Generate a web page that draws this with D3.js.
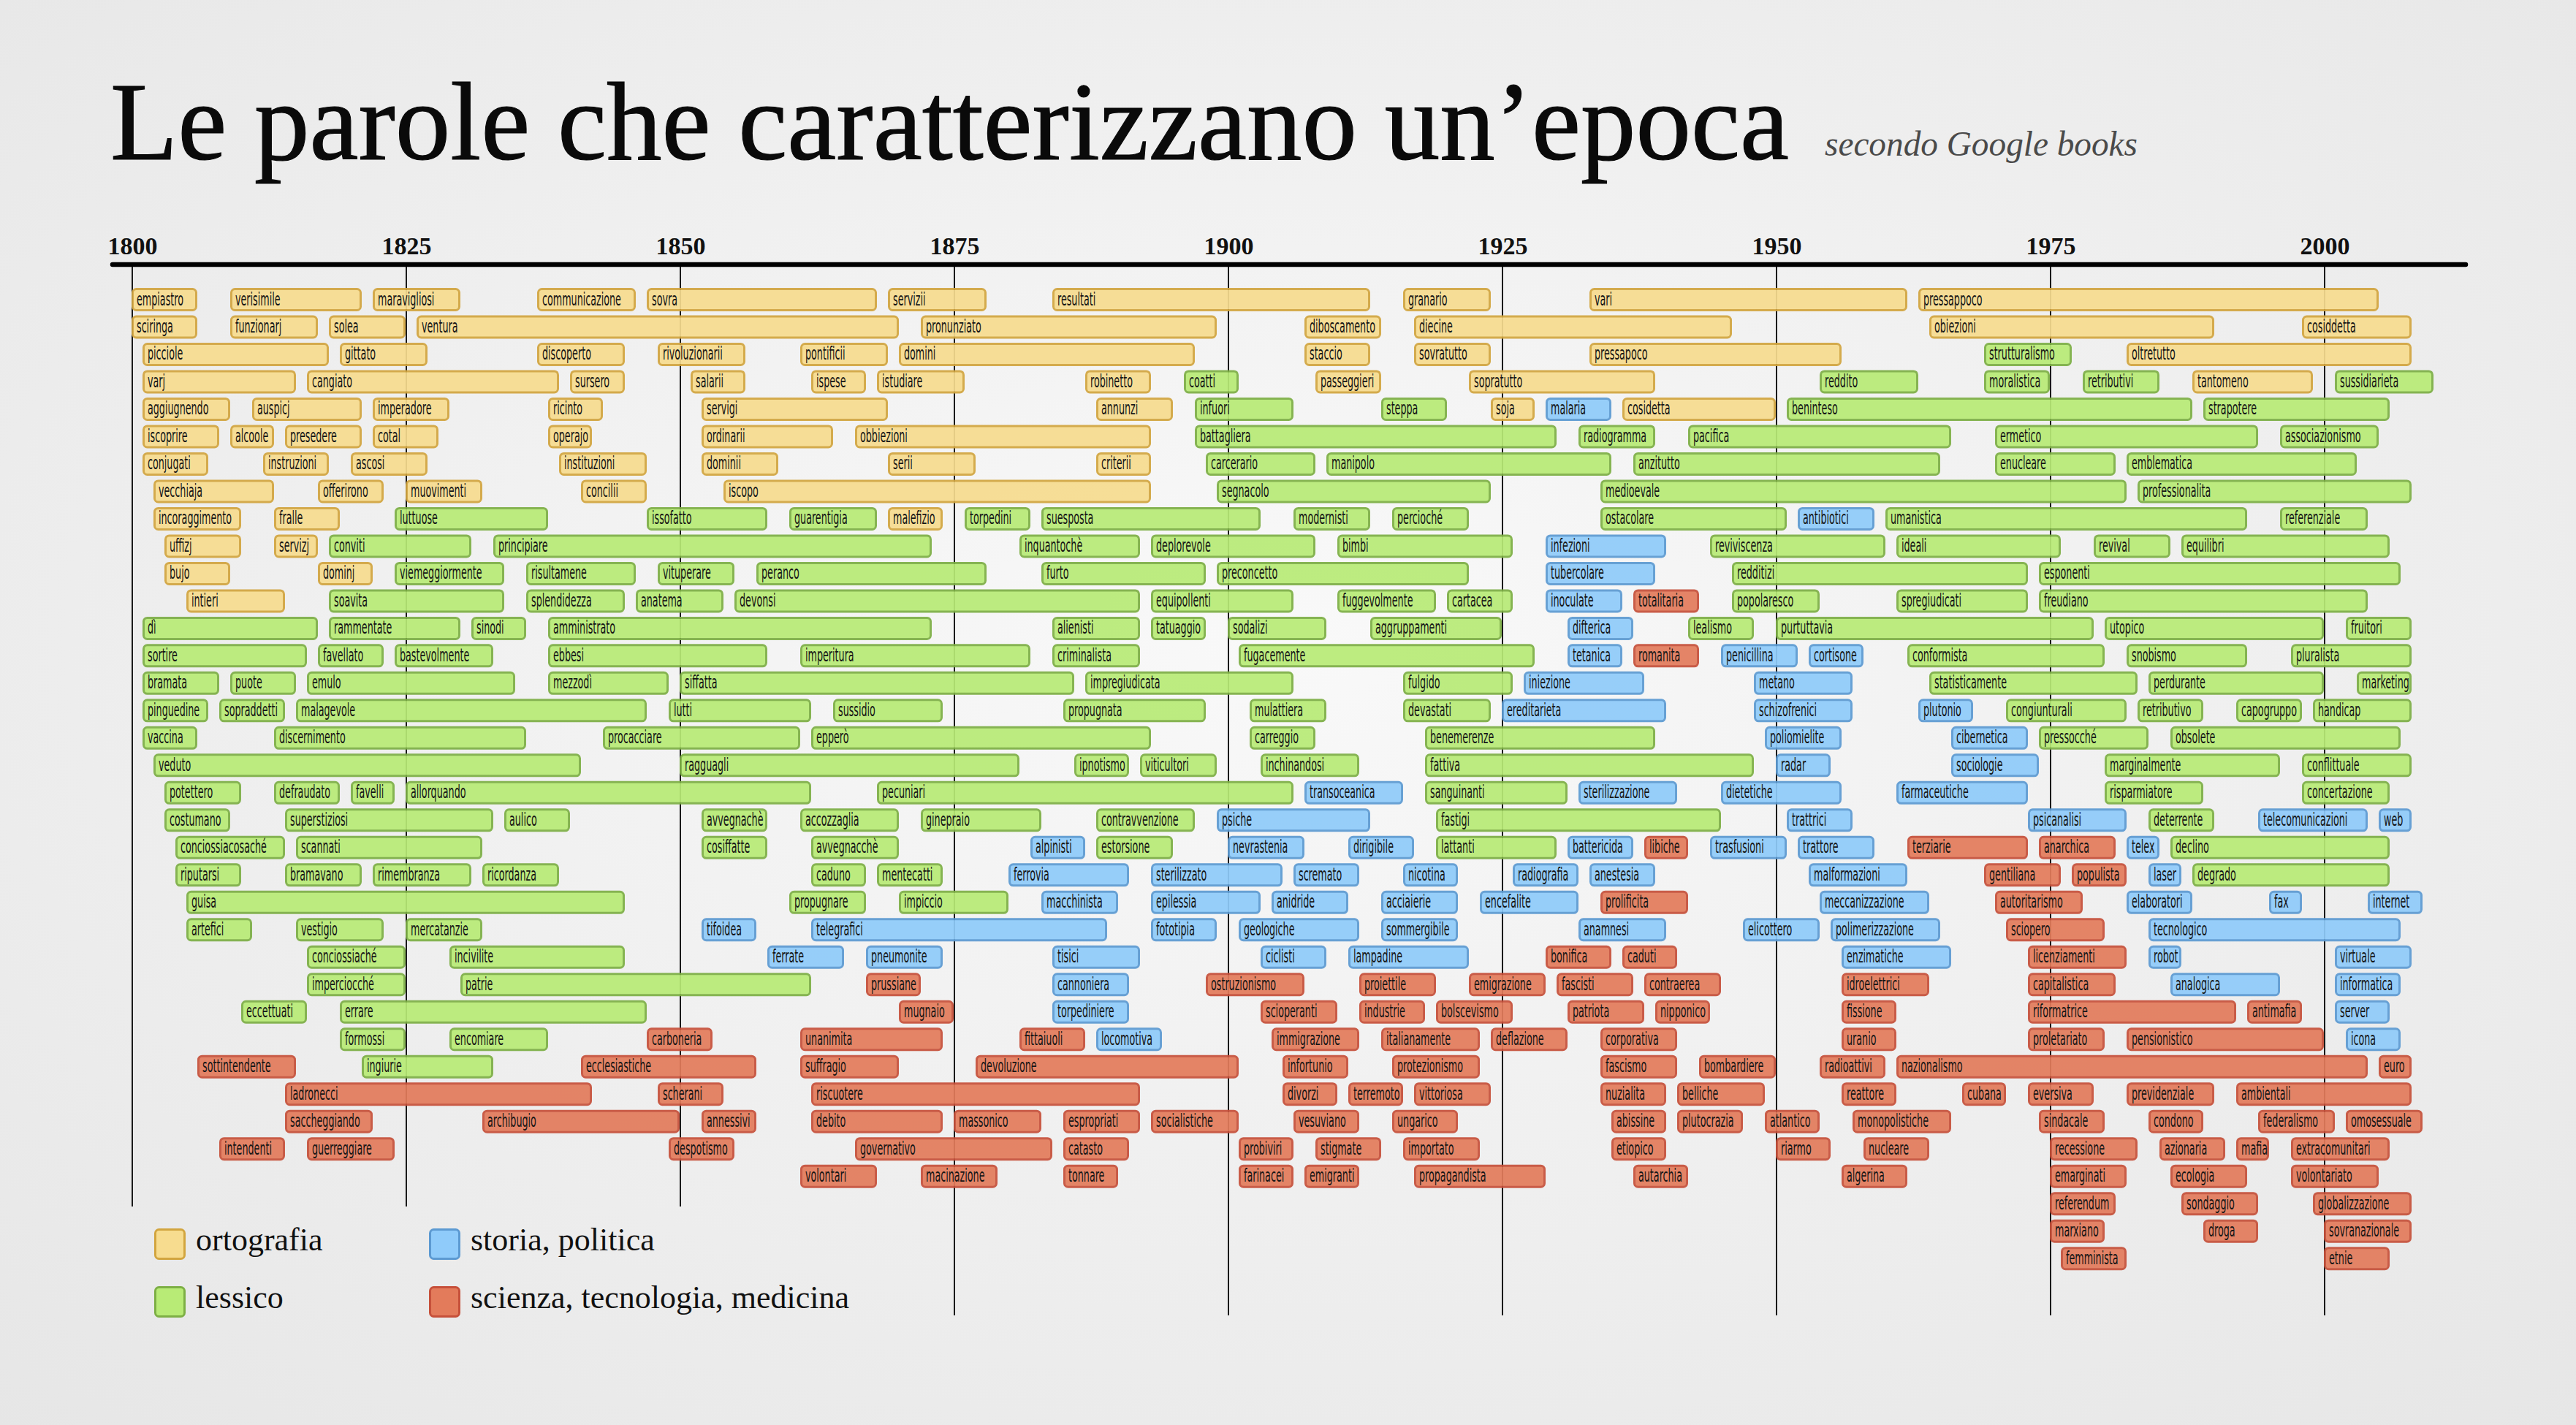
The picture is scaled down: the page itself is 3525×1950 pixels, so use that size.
<!DOCTYPE html>
<html>
<head>
<meta charset="utf-8">
<script src="https://cdn.jsdelivr.net/npm/d3@7"></script>
<style>
  body { margin: 0; background: #eee; }
  #chart-area svg { display: block; }
</style>
</head>
<body>
<div id="chart-area"></div>
<script>
/*
*  Le parole che caratterizzano un'epoca (secondo Google books)
*  one bar per word: [word, first year, last year, category]
*/

var categories = ["ortografia", "lessico", "storia, politica", "scienza, tecnologia, medicina"];
var categoryKeys = ["ort", "les", "sto", "sci"];
var tickYears = [1800, 1825, 1850, 1875, 1900, 1925, 1950, 1975, 2000];

var row00 = [["empiastro",1800,1806,"ort"],["verisimile",1809,1821,"ort"],["maravigliosi",1822,1830,"ort"],["communicazione",1837,1846,"ort"],["sovra",1847,1868,"ort"],["servizii",1869,1878,"ort"],["resultati",1884,1913,"ort"],["granario",1916,1924,"ort"],["vari",1933,1962,"ort"],["pressappoco",1963,2005,"ort"]];
var row01 = [["sciringa",1800,1806,"ort"],["funzionarj",1809,1817,"ort"],["solea",1818,1825,"ort"],["ventura",1826,1870,"ort"],["pronunziato",1872,1899,"ort"],["diboscamento",1907,1914,"ort"],["diecine",1917,1946,"ort"],["obiezioni",1964,1990,"ort"],["cosiddetta",1998,2008,"ort"]];
var row02 = [["picciole",1801,1818,"ort"],["gittato",1819,1827,"ort"],["discoperto",1837,1845,"ort"],["rivoluzionarii",1848,1856,"ort"],["pontificii",1861,1869,"ort"],["domini",1870,1897,"ort"],["staccio",1907,1913,"ort"],["sovratutto",1917,1924,"ort"],["pressapoco",1933,1956,"ort"],["strutturalismo",1969,1977,"les"],["oltretutto",1982,2008,"ort"]];
var row03 = [["varj",1801,1815,"ort"],["cangiato",1816,1839,"ort"],["sursero",1840,1845,"ort"],["salarii",1851,1856,"ort"],["ispese",1862,1867,"ort"],["istudiare",1868,1876,"ort"],["robinetto",1887,1893,"ort"],["coatti",1896,1901,"les"],["passeggieri",1908,1914,"ort"],["sopratutto",1922,1939,"ort"],["reddito",1954,1963,"les"],["moralistica",1969,1975,"les"],["retributivi",1978,1985,"les"],["tantomeno",1988,1999,"ort"],["sussidiarieta",2001,2010,"les"]];
var row04 = [["aggiugnendo",1801,1809,"ort"],["auspicj",1811,1821,"ort"],["imperadore",1822,1829,"ort"],["ricinto",1838,1843,"ort"],["servigi",1852,1869,"ort"],["annunzi",1888,1895,"ort"],["infuori",1897,1906,"les"],["steppa",1914,1920,"les"],["soja",1924,1928,"ort"],["malaria",1929,1935,"sto"],["cosidetta",1936,1950,"ort"],["beninteso",1951,1988,"les"],["strapotere",1989,2006,"les"]];
var row05 = [["iscoprire",1801,1808,"ort"],["alcoole",1809,1813,"ort"],["presedere",1814,1821,"ort"],["cotal",1822,1828,"ort"],["operajo",1838,1842,"ort"],["ordinarii",1852,1864,"ort"],["obbiezioni",1866,1893,"ort"],["battagliera",1897,1930,"les"],["radiogramma",1932,1939,"les"],["pacifica",1942,1966,"les"],["ermetico",1970,1994,"les"],["associazionismo",1996,2005,"les"]];
var row06 = [["conjugati",1801,1807,"ort"],["instruzioni",1812,1818,"ort"],["ascosi",1820,1827,"ort"],["instituzioni",1839,1847,"ort"],["dominii",1852,1859,"ort"],["serii",1869,1877,"ort"],["criterii",1888,1893,"ort"],["carcerario",1898,1908,"les"],["manipolo",1909,1935,"les"],["anzitutto",1937,1965,"les"],["enucleare",1970,1981,"les"],["emblematica",1982,2003,"les"]];
var row07 = [["vecchiaja",1802,1813,"ort"],["offerirono",1817,1823,"ort"],["muovimenti",1825,1832,"ort"],["concilii",1841,1847,"ort"],["iscopo",1854,1893,"ort"],["segnacolo",1899,1924,"les"],["medioevale",1934,1982,"les"],["professionalita",1983,2008,"les"]];
var row08 = [["incoraggimento",1802,1810,"ort"],["fralle",1813,1819,"ort"],["luttuose",1824,1838,"les"],["issofatto",1847,1858,"les"],["guarentigia",1860,1868,"les"],["malefizio",1869,1874,"ort"],["torpedini",1876,1882,"les"],["suesposta",1883,1903,"les"],["modernisti",1906,1913,"les"],["percioché",1915,1922,"les"],["ostacolare",1934,1951,"les"],["antibiotici",1952,1959,"sto"],["umanistica",1960,1993,"les"],["referenziale",1996,2004,"les"]];
var row09 = [["uffizj",1803,1810,"ort"],["servizj",1813,1817,"ort"],["conviti",1818,1831,"les"],["principiare",1833,1873,"les"],["inquantochè",1881,1892,"les"],["deplorevole",1893,1908,"les"],["bimbi",1910,1926,"les"],["infezioni",1929,1940,"sto"],["reviviscenza",1944,1960,"les"],["ideali",1961,1976,"les"],["revival",1979,1986,"les"],["equilibri",1987,2006,"les"]];
var row10 = [["bujo",1803,1809,"ort"],["dominj",1817,1822,"ort"],["viemeggiormente",1824,1834,"les"],["risultamene",1836,1846,"les"],["vituperare",1848,1855,"les"],["peranco",1857,1878,"les"],["furto",1883,1898,"les"],["preconcetto",1899,1922,"les"],["tubercolare",1929,1939,"sto"],["redditizi",1946,1973,"les"],["esponenti",1974,2007,"les"]];
var row11 = [["intieri",1805,1814,"ort"],["soavita",1818,1834,"les"],["splendidezza",1836,1845,"les"],["anatema",1846,1854,"les"],["devonsi",1855,1892,"les"],["equipollenti",1893,1906,"les"],["fuggevolmente",1910,1919,"les"],["cartacea",1920,1926,"les"],["inoculate",1929,1936,"sto"],["totalitaria",1937,1943,"sci"],["popolaresco",1946,1954,"les"],["spregiudicati",1961,1973,"les"],["freudiano",1974,2004,"les"]];
var row12 = [["dì",1801,1817,"les"],["rammentate",1818,1830,"les"],["sinodi",1831,1836,"les"],["amministrato",1838,1873,"les"],["alienisti",1884,1892,"les"],["tatuaggio",1893,1898,"les"],["sodalizi",1900,1909,"les"],["aggruppamenti",1913,1925,"les"],["difterica",1931,1937,"sto"],["lealismo",1942,1948,"les"],["purtuttavia",1950,1979,"les"],["utopico",1980,2000,"les"],["fruitori",2002,2008,"les"]];
var row13 = [["sortire",1801,1816,"les"],["favellato",1817,1823,"les"],["bastevolmente",1824,1833,"les"],["ebbesi",1838,1858,"les"],["imperitura",1861,1882,"les"],["criminalista",1884,1892,"les"],["fugacemente",1901,1928,"les"],["tetanica",1931,1936,"sto"],["romanita",1937,1943,"sci"],["penicillina",1945,1952,"sto"],["cortisone",1953,1958,"sto"],["conformista",1962,1980,"les"],["snobismo",1982,1993,"les"],["pluralista",1997,2008,"les"]];
var row14 = [["bramata",1801,1808,"les"],["puote",1809,1815,"les"],["emulo",1816,1835,"les"],["mezzodì",1838,1849,"les"],["siffatta",1850,1886,"les"],["impregiudicata",1887,1906,"les"],["fulgido",1916,1926,"les"],["iniezione",1927,1938,"sto"],["metano",1948,1957,"sto"],["statisticamente",1964,1983,"les"],["perdurante",1984,2000,"les"],["marketing",2003,2008,"les"]];
var row15 = [["pinguedine",1801,1807,"les"],["sopraddetti",1808,1814,"les"],["malagevole",1815,1847,"les"],["lutti",1849,1862,"les"],["sussidio",1864,1874,"les"],["propugnata",1885,1898,"les"],["mulattiera",1902,1909,"les"],["devastati",1916,1924,"les"],["ereditarieta",1925,1940,"sto"],["schizofrenici",1948,1957,"sto"],["plutonio",1963,1968,"sto"],["congiunturali",1971,1982,"les"],["retributivo",1983,1989,"les"],["capogruppo",1992,1998,"les"],["handicap",1999,2008,"les"]];
var row16 = [["vaccina",1801,1806,"les"],["discernimento",1813,1836,"les"],["procacciare",1843,1861,"les"],["epperò",1862,1893,"les"],["carreggio",1902,1908,"les"],["benemerenze",1918,1939,"les"],["poliomielite",1949,1956,"sto"],["cibernetica",1966,1973,"sto"],["pressocché",1974,1984,"les"],["obsolete",1986,2007,"les"]];
var row17 = [["veduto",1802,1841,"les"],["ragguagli",1850,1881,"les"],["ipnotismo",1886,1891,"les"],["viticultori",1892,1899,"les"],["inchinandosi",1903,1912,"les"],["fattiva",1918,1948,"les"],["radar",1950,1955,"sto"],["sociologie",1966,1974,"sto"],["marginalmente",1980,1996,"les"],["conflittuale",1998,2008,"les"]];
var row18 = [["potettero",1803,1810,"les"],["defraudato",1813,1819,"les"],["favelli",1820,1824,"les"],["allorquando",1825,1862,"les"],["pecuniari",1868,1906,"les"],["transoceanica",1907,1916,"sto"],["sanguinanti",1918,1931,"les"],["sterilizzazione",1932,1941,"sto"],["dietetiche",1945,1956,"sto"],["farmaceutiche",1961,1973,"sto"],["risparmiatore",1980,1989,"les"],["concertazione",1998,2006,"les"]];
var row19 = [["costumano",1803,1809,"les"],["superstiziosi",1814,1833,"les"],["aulico",1834,1840,"les"],["avvegnachè",1852,1858,"les"],["accozzaglia",1861,1870,"les"],["ginepraio",1872,1883,"les"],["contravvenzione",1888,1897,"les"],["psiche",1899,1913,"sto"],["fastigi",1919,1945,"les"],["trattrici",1951,1957,"sto"],["psicanalisi",1973,1982,"sto"],["deterrente",1984,1990,"les"],["telecomunicazioni",1994,2004,"sto"],["web",2005,2008,"sto"]];
var row20 = [["conciossiacosaché",1804,1814,"les"],["scannati",1815,1832,"les"],["cosiffatte",1852,1858,"les"],["avvegnacchè",1862,1870,"les"],["alpinisti",1882,1887,"sto"],["estorsione",1888,1895,"les"],["nevrastenia",1900,1907,"sto"],["dirigibile",1911,1917,"sto"],["lattanti",1919,1930,"les"],["battericida",1931,1937,"sto"],["libiche",1938,1942,"sci"],["trasfusioni",1944,1951,"sto"],["trattore",1952,1959,"sto"],["terziarie",1962,1973,"sci"],["anarchica",1974,1981,"sci"],["telex",1982,1985,"sto"],["declino",1986,2006,"les"]];
var row21 = [["riputarsi",1804,1810,"les"],["bramavano",1814,1821,"les"],["rimembranza",1822,1831,"les"],["ricordanza",1832,1839,"les"],["caduno",1862,1867,"les"],["mentecatti",1868,1874,"les"],["ferrovia",1880,1891,"sto"],["sterilizzato",1893,1905,"sto"],["scremato",1906,1912,"sto"],["nicotina",1916,1921,"sto"],["radiografia",1926,1932,"sto"],["anestesia",1933,1939,"sto"],["malformazioni",1953,1962,"sto"],["gentiliana",1969,1976,"sci"],["populista",1977,1982,"sci"],["laser",1984,1987,"sto"],["degrado",1988,2006,"les"]];
var row22 = [["guisa",1805,1845,"les"],["propugnare",1860,1867,"les"],["impiccio",1870,1880,"les"],["macchinista",1883,1890,"sto"],["epilessia",1893,1903,"sto"],["anidride",1904,1911,"sto"],["acciaierie",1914,1921,"sto"],["encefalite",1923,1932,"sto"],["prolificita",1934,1942,"sci"],["meccanizzazione",1954,1964,"sto"],["autoritarismo",1970,1978,"sci"],["elaboratori",1982,1988,"sto"],["fax",1995,1998,"sto"],["internet",2004,2009,"sto"]];
var row23 = [["artefici",1805,1811,"les"],["vestigio",1815,1823,"les"],["mercatanzie",1825,1832,"les"],["tifoidea",1852,1857,"sto"],["telegrafici",1862,1889,"sto"],["fototipia",1893,1899,"sto"],["geologiche",1901,1912,"sto"],["sommergibile",1914,1921,"sto"],["anamnesi",1932,1940,"sto"],["elicottero",1947,1954,"sto"],["polimerizzazione",1955,1965,"sto"],["sciopero",1971,1980,"sci"],["tecnologico",1984,2007,"sto"]];
var row24 = [["conciossiaché",1816,1825,"les"],["incivilite",1829,1845,"les"],["ferrate",1858,1865,"sto"],["pneumonite",1867,1874,"sto"],["tisici",1884,1892,"sto"],["ciclisti",1903,1909,"sto"],["lampadine",1911,1922,"sto"],["bonifica",1929,1935,"sci"],["caduti",1936,1941,"sci"],["enzimatiche",1956,1966,"sto"],["licenziamenti",1973,1982,"sci"],["robot",1984,1987,"sto"],["virtuale",2001,2008,"sto"]];
var row25 = [["imperciocché",1816,1825,"les"],["patrie",1830,1862,"les"],["prussiane",1867,1872,"sci"],["cannoniera",1884,1891,"sto"],["ostruzionismo",1898,1907,"sci"],["proiettile",1912,1919,"sci"],["emigrazione",1922,1929,"sci"],["fascisti",1930,1937,"sci"],["contraerea",1938,1945,"sci"],["idroelettrici",1956,1964,"sci"],["capitalistica",1973,1981,"sci"],["analogica",1986,1996,"sto"],["informatica",2001,2007,"sto"]];
var row26 = [["eccettuati",1810,1816,"les"],["errare",1819,1847,"les"],["mugnaio",1870,1875,"sci"],["torpediniere",1884,1891,"sto"],["scioperanti",1903,1910,"sci"],["industrie",1912,1918,"sci"],["bolscevismo",1919,1926,"sci"],["patriota",1931,1938,"sci"],["nipponico",1939,1944,"sci"],["fissione",1956,1961,"sci"],["riformatrice",1973,1992,"sci"],["antimafia",1993,1998,"sci"],["server",2001,2006,"sto"]];
var row27 = [["formossi",1819,1825,"les"],["encomiare",1829,1838,"les"],["carboneria",1847,1853,"sci"],["unanimita",1861,1874,"sci"],["fittaiuoli",1881,1887,"sci"],["locomotiva",1888,1894,"sto"],["immigrazione",1904,1912,"sci"],["italianamente",1914,1923,"sci"],["deflazione",1924,1931,"sci"],["corporativa",1934,1941,"sci"],["uranio",1956,1961,"sci"],["proletariato",1973,1980,"sci"],["pensionistico",1982,2000,"sci"],["icona",2002,2007,"sto"]];
var row28 = [["sottintendente",1806,1815,"sci"],["ingiurie",1821,1833,"les"],["ecclesiastiche",1841,1857,"sci"],["suffragio",1861,1870,"sci"],["devoluzione",1877,1901,"sci"],["infortunio",1905,1911,"sci"],["protezionismo",1915,1923,"sci"],["fascismo",1934,1941,"sci"],["bombardiere",1943,1950,"sci"],["radioattivi",1954,1960,"sci"],["nazionalismo",1961,2004,"sci"],["euro",2005,2008,"sci"]];
var row29 = [["ladronecci",1814,1842,"sci"],["scherani",1848,1854,"sci"],["riscuotere",1862,1892,"sci"],["divorzi",1905,1910,"sci"],["terremoto",1911,1916,"sci"],["vittoriosa",1917,1924,"sci"],["nuzialita",1934,1940,"sci"],["belliche",1941,1949,"sci"],["reattore",1956,1961,"sci"],["cubana",1967,1971,"sci"],["eversiva",1973,1979,"sci"],["previdenziale",1982,1990,"sci"],["ambientali",1992,2008,"sci"]];
var row30 = [["saccheggiando",1814,1822,"sci"],["archibugio",1832,1850,"sci"],["annessivi",1852,1857,"sci"],["debito",1862,1874,"sci"],["massonico",1875,1883,"sci"],["espropriati",1885,1892,"sci"],["socialistiche",1893,1901,"sci"],["vesuviano",1906,1912,"sci"],["ungarico",1915,1921,"sci"],["abissine",1935,1940,"sci"],["plutocrazia",1941,1947,"sci"],["atlantico",1949,1954,"sci"],["monopolistiche",1957,1966,"sci"],["sindacale",1974,1980,"sci"],["condono",1984,1989,"sci"],["federalismo",1994,2001,"sci"],["omosessuale",2002,2009,"sci"]];
var row31 = [["intendenti",1808,1814,"sci"],["guerreggiare",1816,1824,"sci"],["despotismo",1849,1855,"sci"],["governativo",1866,1884,"sci"],["catasto",1885,1891,"sci"],["probiviri",1901,1906,"sci"],["stigmate",1908,1914,"sci"],["importato",1916,1923,"sci"],["etiopico",1935,1940,"sci"],["riarmo",1950,1955,"sci"],["nucleare",1958,1964,"sci"],["recessione",1975,1983,"sci"],["azionaria",1985,1991,"sci"],["mafia",1992,1995,"sci"],["extracomunitari",1997,2006,"sci"]];
var row32 = [["volontari",1861,1868,"sci"],["macinazione",1872,1879,"sci"],["tonnare",1885,1890,"sci"],["farinacei",1901,1906,"sci"],["emigranti",1907,1912,"sci"],["propagandista",1917,1929,"sci"],["autarchia",1937,1942,"sci"],["algerina",1956,1962,"sci"],["emarginati",1975,1982,"sci"],["ecologia",1986,1993,"sci"],["volontariato",1997,2005,"sci"]];
var row33 = [["referendum",1975,1981,"sci"],["sondaggio",1987,1994,"sci"],["globalizzazione",1999,2008,"sci"]];
var row34 = [["marxiano",1975,1980,"sci"],["droga",1989,1994,"sci"],["sovranazionale",2000,2008,"sci"]];
var row35 = [["femminista",1976,1982,"sci"],["etnie",2000,2006,"sci"]];

var rows = [row00,row01,row02,row03,row04,row05,row06,row07,row08,row09,row10,row11,
	row12,row13,row14,row15,row16,row17,row18,row19,row20,row21,row22,row23,
	row24,row25,row26,row27,row28,row29,row30,row31,row32,row33,row34,row35];

var fills   = { ort:"#f7dc8f", les:"#b8eb76", sto:"#8fcbfa", sci:"#e37b5b" };
var strokes = { ort:"#d2a53f", les:"#7daf45", sto:"#5c9ad2", sci:"#c6503a" };

var width = 3525;
var height = 1950;
var axisY = 362;
var labelSize = 25;
var labelFont = "'Liberation Sans Narrow', 'DejaVu Sans Condensed', 'Liberation Sans', sans-serif";
var serif = "'Liberation Serif', 'DejaVu Serif', serif";

var svg = d3.select("#chart-area")
	.append("svg")
		.attr("width", width)
		.attr("height", height);

// soft grey backdrop
var grad = svg.append("defs").append("radialGradient")
	.attr("id", "bg")
	.attr("cx", "50%").attr("cy", "45%").attr("r", "75%");
grad.append("stop").attr("offset", "0%").attr("stop-color", "#f9f9f9");
grad.append("stop").attr("offset", "100%").attr("stop-color", "#e6e6e6");
svg.append("rect")
	.attr("width", width).attr("height", height)
	.attr("fill", "url(#bg)");

// title
svg.append("text")
	.attr("x", 151).attr("y", 218)
	.attr("font-family", serif)
	.attr("font-size", 152)
	.attr("fill", "#0a0a0a")
	.attr("stroke", "#0a0a0a")
	.attr("stroke-width", 1.2)
	.attr("textLength", 2297)
	.attr("lengthAdjust", "spacingAndGlyphs")
	.text("Le parole che caratterizzano un\u2019epoca");

svg.append("text")
	.attr("x", 2497).attr("y", 213)
	.attr("font-family", serif)
	.attr("font-style", "italic")
	.attr("font-size", 48)
	.attr("fill", "#4a4a4a")
	.attr("textLength", 428)
	.attr("lengthAdjust", "spacingAndGlyphs")
	.text("secondo Google books");

var x = d3.scaleLinear()
	.domain([1800, 2000])
	.range([181, 3181]);

var y = d3.scaleLinear()
	.domain([0, rows.length - 1])
	.range([394, 394 + 37.49 * (rows.length - 1)]);

// vertical guides, the first ones stop above the legend
var legendRight = 1200;
svg.append("g").selectAll("line")
	.data(tickYears)
	.enter().append("line")
		.attr("x1", function(d){ return x(d); })
		.attr("x2", function(d){ return x(d); })
		.attr("y1", axisY)
		.attr("y2", function(d){ return x(d) < legendRight ? 1651 : 1800; })
		.attr("stroke", "#1a1a1a")
		.attr("stroke-width", 2);

// flatten rows into bars
var bars = [];
rows.forEach(function(r, i){
	r.forEach(function(d){
		bars.push({ word: d[0], from: d[1], to: d[2], cat: d[3], row: i });
	});
});

var g = svg.append("g");

var rects = g.selectAll("rect")
	.data(bars);

rects.enter()
	.append("rect")
		.attr("x", function(d){ return x(d.from) + 0.5; })
		.attr("y", function(d){ return y(d.row) + 1.5; })
		.attr("width", function(d){ return x(d.to) - x(d.from) - 3; })
		.attr("height", 29)
		.attr("rx", 5)
		.attr("fill", function(d){ return fills[d.cat]; })
		.attr("stroke", function(d){ return strokes[d.cat]; })
		.attr("stroke-width", 3)
		.attr("opacity", 0.92);

// measure the label font once so that words get the narrow look of the original
var probe = svg.append("text")
	.attr("font-family", labelFont)
	.attr("font-size", labelSize)
	.text("empiastro");
var squeeze = Math.min(1, 64 / probe.node().getComputedTextLength());
probe.remove();

g.selectAll("text.word")
	.data(bars)
	.enter().append("text")
		.attr("class", "word")
		.attr("transform", function(d){
			return "translate(" + (x(d.from) + 6) + "," + (y(d.row) + 23.5) + ") scale(" + squeeze + ",1)";
		})
		.attr("font-family", labelFont)
		.attr("font-size", labelSize)
		.attr("fill", "#151515")
		.text(function(d){ return d.word; });

// top axis: years above a thick rule
var topAxis = d3.axisTop(x)
	.tickValues(tickYears)
	.tickSize(0)
	.tickPadding(14)
	.tickFormat(d3.format("d"));

var ax = svg.append("g")
	.attr("class", "top axis")
	.attr("transform", "translate(0," + axisY + ")")
	.call(topAxis);
ax.select(".domain").remove();
ax.selectAll("text")
	.attr("font-family", serif)
	.attr("font-size", 34)
	.attr("font-weight", "bold")
	.attr("fill", "#111");

svg.append("line")
	.attr("x1", 154).attr("x2", 3374)
	.attr("y1", axisY).attr("y2", axisY)
	.attr("stroke", "#000")
	.attr("stroke-width", 6.5)
	.attr("stroke-linecap", "round");

// legend, two columns
var legend = svg.append("g").selectAll("g")
	.data(categories)
	.enter().append("g")
		.attr("transform", function(d, i){
			return "translate(" + (i < 2 ? 211 : 587) + "," + (1681 + (i % 2) * 79) + ")";
		});

legend.append("rect")
	.attr("x", 1.5).attr("y", 1.5)
	.attr("width", 40).attr("height", 40)
	.attr("rx", 5)
	.attr("fill", function(d, i){ return fills[categoryKeys[i]]; })
	.attr("stroke", function(d, i){ return strokes[categoryKeys[i]]; })
	.attr("stroke-width", 3);

legend.append("text")
	.attr("x", 57)
	.attr("y", 30)
	.attr("font-family", serif)
	.attr("font-size", 44)
	.attr("fill", "#111")
	.text(function(d){ return d; });

</script>
</body>
</html>
